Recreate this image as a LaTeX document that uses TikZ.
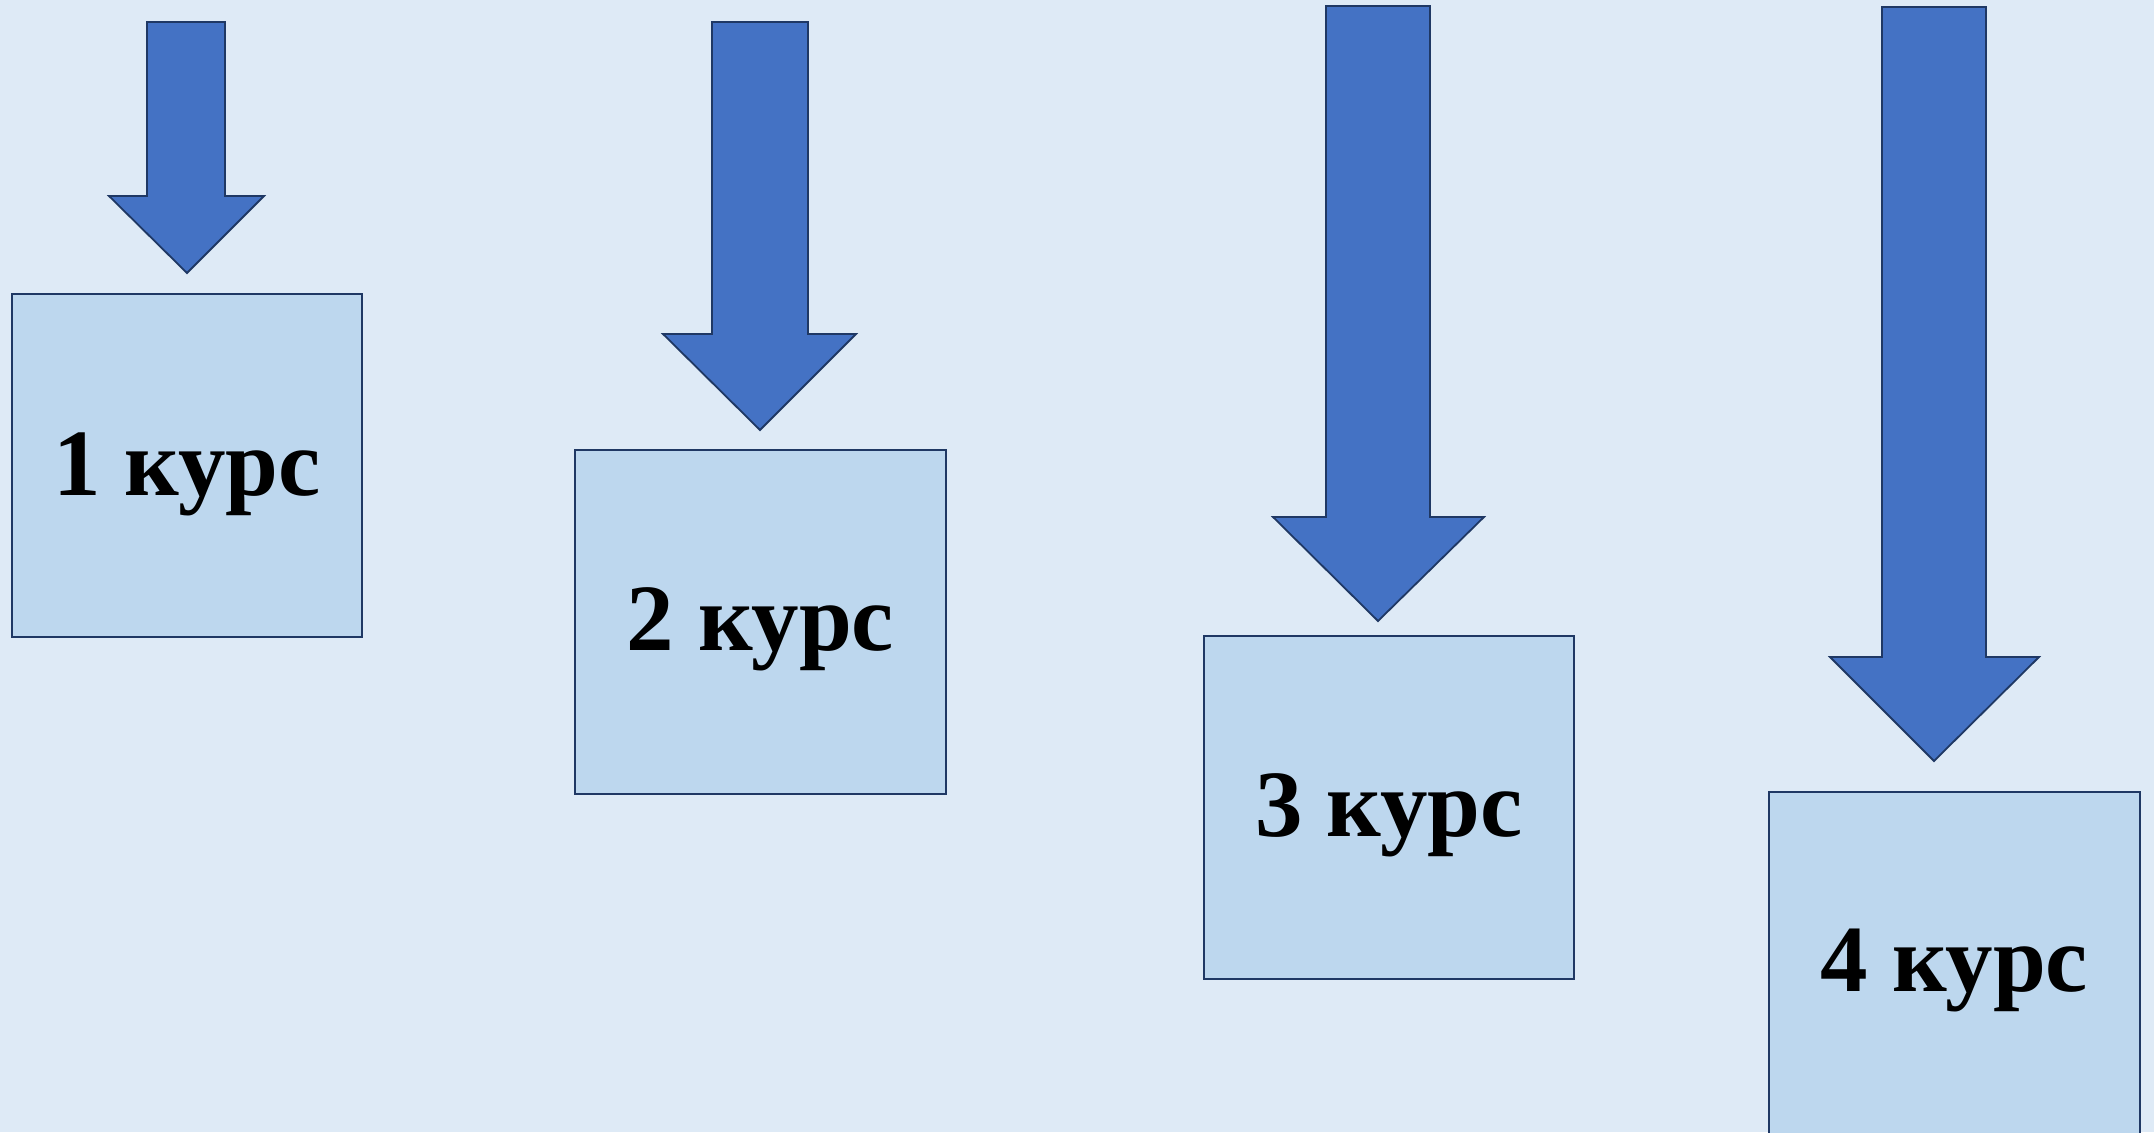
\documentclass[tikz,border=0pt]{standalone}
\usepackage{fontspec}
\setmainfont{Liberation Serif}
\definecolor{bgc}{HTML}{DEEAF6}
\definecolor{boxc}{HTML}{BDD7EE}
\definecolor{arrc}{HTML}{4472C4}
\definecolor{edgec}{HTML}{1F3864}
\begin{document}
\begin{tikzpicture}[x=1pt,y=-1pt,
  course/.style={draw=edgec, line width=2pt, fill=boxc, rectangle, anchor=north west, inner sep=0pt},
  blockarrow/.style={draw=edgec, line width=1.8pt, fill=arrc, line join=miter},
  lbl/.style={anchor=base, inner sep=0pt, font=\fontsize{95}{100}\selectfont\bfseries}]
\useasboundingbox (0,0) rectangle (2154,1132);
\fill[bgc] (0,0) rectangle (2154,1132);
\clip (0,0) rectangle (2154,1132);
% boxes
\node[course, minimum width=350pt, minimum height=343pt] (b1) at (11,293) {};
\node[course, minimum width=371pt, minimum height=344pt] (b2) at (574,449) {};
\node[course, minimum width=370pt, minimum height=343pt] (b3) at (1203,635) {};
\node[course, minimum width=371pt, minimum height=343pt] (b4) at (1768,791) {};
% labels
\node[lbl] (t1) at ([yshift=-30pt]b1.center) {1 курс};
\node[lbl] (t2) at ([yshift=-28pt]b2.center) {2 курс};
\node[lbl] (t3) at ([yshift=-29pt]b3.center) {3 курс};
\node[lbl] (t4) at ([yshift=-28pt]b4.center) {4 курс};
% arrows
\draw[blockarrow] (147,22) -- (225,22) -- (225,196) -- (264,196) -- (187,273) -- (109,196) -- (147,196) -- cycle;
\draw[blockarrow] (712,22) -- (808,22) -- (808,334) -- (856,334) -- (760,430) -- (663,334) -- (712,334) -- cycle;
\draw[blockarrow] (1326,6) -- (1430,6) -- (1430,517) -- (1484,517) -- (1378,621) -- (1273,517) -- (1326,517) -- cycle;
\draw[blockarrow] (1882,7) -- (1986,7) -- (1986,657) -- (2039,657) -- (1934,761) -- (1830,657) -- (1882,657) -- cycle;
\end{tikzpicture}
\end{document}
